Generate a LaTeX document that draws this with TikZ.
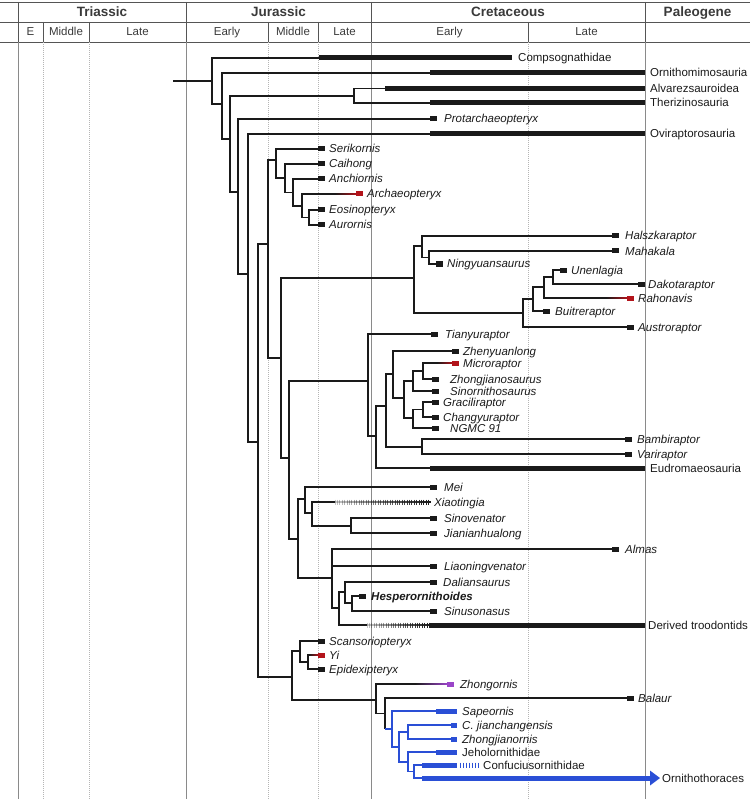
\documentclass[tikz,border=0pt]{standalone}
\usepackage{fontspec}
\setmainfont{Liberation Sans}
\usetikzlibrary{calc}
\definecolor{tree}{HTML}{1A1A1A}
\definecolor{txt}{HTML}{1A1A1A}
\definecolor{hdrline}{HTML}{555555}
\definecolor{hdrtxt}{HTML}{3A3A3A}
\definecolor{per}{HTML}{8A8A8A}
\definecolor{epo}{HTML}{B5B5B5}
\definecolor{myred}{HTML}{B3141B}
\definecolor{mypurp}{HTML}{9A44C8}
\definecolor{myblue}{HTML}{2A4FD6}
\begin{document}
\begin{tikzpicture}[x=1pt,y=-1pt,
  br/.style={line width=1.3pt,draw=tree},
  bbr/.style={line width=1.3pt,draw=myblue},
  bar/.style={line width=5pt,draw=tree,line cap=butt},
  bbar/.style={line width=5pt,draw=myblue,line cap=butt},
  tbox/.style={fill=tree,draw=none,minimum width=7pt,minimum height=5pt,inner sep=0pt,anchor=west},
  rbox/.style={tbox,fill=myred},
  pbox/.style={tbox,fill=mypurp},
  bbox/.style={tbox,fill=myblue,minimum width=6pt},
  lab/.style={anchor=base west,inner sep=0pt,text=txt,font=\fontsize{11.5}{13}\selectfont\itshape},
  clab/.style={anchor=base west,inner sep=0pt,text=txt,font=\fontsize{11.5}{13}\selectfont},
  hlab/.style={anchor=base,inner sep=0pt,text=hdrtxt,font=\fontsize{13.5}{15}\selectfont\bfseries},
  elab/.style={anchor=base,inner sep=0pt,text=hdrtxt,font=\fontsize{11.5}{13}\selectfont},
  hline/.style={draw=hdrline,line width=0.9pt},
  pline/.style={draw=per,line width=0.9pt},
  eline/.style={draw=epo,line width=0.7pt,dash pattern=on 1pt off 1pt}
]
\useasboundingbox (0,0) rectangle (750,799);
% ---------------- header ----------------
\draw[hline] (0,2) -- (750,2);
\draw[hline] (0,22) -- (750,22);
\draw[hline] (0,42) -- (750,42);
\draw[hline] (18,2) -- (18,42);
\foreach \px in {186,371,645} \draw[hline] (\px,2) -- (\px,42);
\foreach \px in {43,89,268,318,528} \draw[hline] (\px,22) -- (\px,42);
\foreach \px in {18,186,371,645} \draw[pline] (\px,42) -- (\px,799);
\foreach \px in {43,89,268,318,528} \draw[eline] (\px,42) -- (\px,799);
\node[hlab] (hTri) at (102,17) {Triassic};
\node[hlab] (hJur) at (278.5,17) {Jurassic};
\node[hlab] (hCre) at (508,17) {Cretaceous};
\node[hlab] (hPal) at (697.5,17) {Paleogene};
\node[elab] (eE) at (30.5,36) {E};
\node[elab] (eTM) at (66,36) {Middle};
\node[elab] (eTL) at (137.5,36) {Late};
\node[elab] (eJE) at (227,36) {Early};
\node[elab] (eJM) at (293,36) {Middle};
\node[elab] (eJL) at (344.5,36) {Late};
\node[elab] (eCE) at (449.5,36) {Early};
\node[elab] (eCL) at (586.5,36) {Late};
% ---------------- internal nodes ----------------
\coordinate (r0) at (173,81);
\coordinate (n0) at (212,81);
\coordinate (n1) at (222,104);
\coordinate (n2) at (230,139);
\coordinate (nat) at (354,96);
\coordinate (n3) at (238,192);
\coordinate (n4) at (248,274);
\coordinate (n5) at (258,442);
\coordinate (n6) at (268,244);
\coordinate (na1) at (276,160);
\coordinate (na2) at (285,178);
\coordinate (na3) at (293,192.5);
\coordinate (na4) at (302,206);
\coordinate (na5) at (309,217.5);
\coordinate (n7) at (281,358);
\coordinate (nun) at (414,278);
\coordinate (nh1) at (422,246);
\coordinate (nh2) at (429,257.5);
\coordinate (nu1) at (523,313);
\coordinate (nu2) at (533,299);
\coordinate (nu3) at (544,287);
\coordinate (nu4) at (553,277);
\coordinate (n8) at (289,458);
\coordinate (nd0) at (368,381);
\coordinate (nd1) at (376,436);
\coordinate (nd2) at (386,406);
\coordinate (nd3) at (393,374);
\coordinate (nd4) at (404,398);
\coordinate (nd5) at (413,381);
\coordinate (nd6) at (423,371);
\coordinate (nd7) at (413,418);
\coordinate (nd7b) at (423,409.5);
\coordinate (nd8) at (422,447);
\coordinate (ntr) at (298,539);
\coordinate (nt1) at (305,499);
\coordinate (nt2) at (312,513);
\coordinate (nt3) at (351,526);
\coordinate (nt5) at (332,578);
\coordinate (nt6) at (339,608);
\coordinate (nt7) at (345,592);
\coordinate (nt8) at (352,603);
\coordinate (nsa) at (292,677);
\coordinate (nsc) at (300,651);
\coordinate (nsc2) at (308,662);
\coordinate (nav) at (376,700);
\coordinate (nav2) at (385,713.5);
\coordinate (nav3) at (392,729);
\coordinate (nav4) at (399,747);
\coordinate (nav5) at (408,732);
\coordinate (nav6) at (408,762);
\coordinate (nav7) at (414,771.5);
% ---------------- leaves: bars ----------------
\coordinate (compsoS) at (319,58);  \coordinate (compsoE) at (512,58);
\coordinate (ornS) at (430,73);     \coordinate (ornE) at (645,73);
\coordinate (alvS) at (385,88.5);   \coordinate (alvE) at (645,88.5);
\coordinate (therS) at (430,103);   \coordinate (therE) at (645,103);
\coordinate (oviS) at (430,134);    \coordinate (oviE) at (645,134);
\coordinate (eudS) at (430,468);    \coordinate (eudE) at (645,468);
\coordinate (dtS) at (367,625);     \coordinate (dtB) at (430,625); \coordinate (dtE) at (645,625);
\coordinate (xiaoS) at (335,502);
\draw[bar] (compsoS) -- (compsoE);
\draw[bar] (ornS) -- (ornE);
\draw[bar] (alvS) -- (alvE);
\draw[bar] (therS) -- (therE);
\draw[bar] (oviS) -- (oviE);
\draw[bar] (eudS) -- (eudE);
\draw[bar] (dtB) -- (dtE);
% ---------------- leaves: boxes ----------------
\node[tbox] (prot) at (430,119) {};
\node[tbox] (seri) at (318,149) {};
\node[tbox] (caih) at (318,164) {};
\node[tbox] (anch) at (318,179) {};
\node[rbox] (arch) at (356,194) {};
\node[tbox] (eosi) at (318,210) {};
\node[tbox] (auro) at (318,225) {};
\node[tbox] (hals) at (612,236) {};
\node[tbox] (maha) at (612,251) {};
\node[tbox] (ning) at (436,264) {};
\node[tbox] (unen) at (560,270) {};
\node[tbox] (dako) at (638,284) {};
\node[rbox] (raho) at (627,298) {};
\node[tbox] (buit) at (543,311) {};
\node[tbox] (aust) at (627,327) {};
\node[tbox] (tian) at (431,334) {};
\node[tbox] (zhen) at (452,351) {};
\node[rbox] (micr) at (452,363) {};
\node[tbox] (zhoj) at (432,379) {};
\node[tbox] (sino) at (432,391) {};
\node[tbox] (grac) at (432,402) {};
\node[tbox] (chan) at (432,417) {};
\node[tbox] (ngmc) at (432,428) {};
\node[tbox] (bamb) at (625,439) {};
\node[tbox] (vari) at (625,454) {};
\node[tbox] (mei) at (430,487) {};
\node[tbox] (sinv) at (430,518) {};
\node[tbox] (jian) at (430,533) {};
\node[tbox] (alma) at (612,549) {};
\node[tbox] (liao) at (430,566) {};
\node[tbox] (dali) at (430,582) {};
\node[tbox] (hesp) at (359,596) {};
\node[tbox] (sinu) at (430,611) {};
\node[tbox] (scan) at (318,641) {};
\node[rbox] (yi) at (318,655) {};
\node[tbox] (epid) at (318,669) {};
\node[pbox] (zhon) at (447,684) {};
\node[tbox] (bala) at (627,698) {};
\node[bbox] (cjia) at (451,725) {};
\node[bbox] (zhjo) at (451,739) {};
% gradient stems
\coordinate (archS) at (335,194);
\coordinate (rahoS) at (606,298);
\coordinate (micrS) at (437,363);
\coordinate (yiS) at (309,655);
\coordinate (zhonS) at (415,684);
\shade[left color=tree,right color=myred] (335,193.35) rectangle (356.5,194.65);
\shade[left color=tree,right color=myred] (606,297.35) rectangle (627.5,298.65);
\shade[left color=tree,right color=myred] (437,362.35) rectangle (452.5,363.65);
\shade[left color=tree,right color=myred] (309,654.35) rectangle (318.5,655.65);
\shade[left color=tree,right color=mypurp] (415,683.35) rectangle (447.5,684.65);
% hatching
\foreach \i in {0,...,39}{
  \pgfmathsetmacro{\hx}{335+2.4*\i}
  \pgfmathsetmacro{\ho}{0.25+0.75*\i/39}
  \draw[tree,line width=0.8pt,opacity=\ho] (\hx,499.5) -- (\hx,504.5);
  \draw[tree,line width=1.3pt,opacity=\ho] (\hx,502) -- ++(2.4,0);
}
\foreach \i in {0,...,26}{
  \pgfmathsetmacro{\hx}{367+2.4*\i}
  \pgfmathsetmacro{\ho}{0.25+0.75*\i/26}
  \draw[tree,line width=0.8pt,opacity=\ho] (\hx,622.5) -- (\hx,627.5);
  \draw[tree,line width=1.3pt,opacity=\ho] (\hx,625) -- ++(2.4,0);
}
% ---------------- edges ----------------
\draw[br] (r0) -- (n0);
\draw[br] (n0) |- (compsoS);  \draw[br] (n0) |- (n1);
\draw[br] (n1) |- (ornS);     \draw[br] (n1) |- (n2);
\draw[br] (n2) |- (nat);      \draw[br] (n2) |- (n3);
\draw[br] (nat) |- (alvS);    \draw[br] (nat) |- (therS);
\draw[br] (n3) |- (prot.west); \draw[br] (n3) |- (n4);
\draw[br] (n4) |- (oviS);     \draw[br] (n4) |- (n5);
\draw[br] (n5) |- (n6);       \draw[br] (n5) |- (nsa);
\draw[br] (n6) |- (na1);      \draw[br] (n6) |- (n7);
\draw[br] (na1) |- (seri.west); \draw[br] (na1) |- (na2);
\draw[br] (na2) |- (caih.west); \draw[br] (na2) |- (na3);
\draw[br] (na3) |- (anch.west); \draw[br] (na3) |- (na4);
\draw[br] (na4) |- (archS);     \draw[br] (na4) |- (na5);
\draw[br] (na5) |- (eosi.west); \draw[br] (na5) |- (auro.west);
\draw[br] (n7) |- (nun);        \draw[br] (n7) |- (n8);
\draw[br] (nun) |- (nh1);       \draw[br] (nun) |- (nu1);
\draw[br] (nh1) |- (hals.west); \draw[br] (nh1) |- (nh2);
\draw[br] (nh2) |- (maha.west); \draw[br] (nh2) |- (ning.west);
\draw[br] (nu1) |- (nu2);       \draw[br] (nu1) |- (aust.west);
\draw[br] (nu2) |- (nu3);       \draw[br] (nu2) |- (buit.west);
\draw[br] (nu3) |- (nu4);       \draw[br] (nu3) |- (rahoS);
\draw[br] (nu4) |- (unen.west); \draw[br] (nu4) |- (dako.west);
\draw[br] (n8) |- (nd0);        \draw[br] (n8) |- (ntr);
\draw[br] (nd0) |- (tian.west); \draw[br] (nd0) |- (nd1);
\draw[br] (nd1) |- (nd2);       \draw[br] (nd1) |- (eudS);
\draw[br] (nd2) |- (nd3);       \draw[br] (nd2) |- (nd8);
\draw[br] (nd3) |- (zhen.west); \draw[br] (nd3) |- (nd4);
\draw[br] (nd4) |- (nd5);       \draw[br] (nd4) |- (nd7);
\draw[br] (nd5) |- (nd6);       \draw[br] (nd5) |- (sino.west);
\draw[br] (nd6) |- (micrS);     \draw[br] (nd6) |- (zhoj.west);
\draw[br] (nd7) |- (nd7b);      \draw[br] (nd7) |- (ngmc.west);
\draw[br] (nd7b) |- (grac.west); \draw[br] (nd7b) |- (chan.west);
\draw[br] (nd8) |- (bamb.west); \draw[br] (nd8) |- (vari.west);
\draw[br] (ntr) |- (nt1);       \draw[br] (ntr) |- (nt5);
\draw[br] (nt1) |- (mei.west);  \draw[br] (nt1) |- (nt2);
\draw[br] (nt2) |- (xiaoS);     \draw[br] (nt2) |- (nt3);
\draw[br] (nt3) |- (sinv.west); \draw[br] (nt3) |- (jian.west);
\draw[br] (nt5) |- (alma.west); \draw[br] (nt5) |- (liao.west); \draw[br] (nt5) |- (nt6);
\draw[br] (nt6) |- (nt7);       \draw[br] (nt6) |- (dtS);
\draw[br] (nt7) |- (dali.west); \draw[br] (nt7) |- (nt8);
\draw[br] (nt8) |- (hesp.west); \draw[br] (nt8) |- (sinu.west);
\draw[br] (nsa) |- (nsc);       \draw[br] (nsa) |- (nav);
\draw[br] (nsc) |- (scan.west); \draw[br] (nsc) |- (nsc2);
\draw[br] (nsc2) |- (yiS);      \draw[br] (nsc2) |- (epid.west);
\draw[br] (nav) |- (zhonS);     \draw[br] (nav) |- (nav2);
\draw[br] (nav2) |- (bala.west); \draw[br] (nav2) -- (nav2 |- nav3);
% ---------------- Avialae (blue) ----------------
\coordinate (sapS) at (436,711);  \coordinate (sapE) at (457,711);
\coordinate (jehS) at (436,752);  \coordinate (jehE) at (457,752);
\coordinate (confS) at (422,765); \coordinate (confE) at (457,765);
\coordinate (ornthS) at (422,778); \coordinate (ornthE) at (651,778);
\draw[bbr] (nav2 |- nav3) -- (nav3);
\draw[bbr] (nav3) |- (sapS);     \draw[bbr] (nav3) |- (nav4);
\draw[bbr] (nav4) |- (nav5);     \draw[bbr] (nav4) |- (nav6);
\draw[bbr] (nav5) |- (cjia.west); \draw[bbr] (nav5) |- (zhjo.west);
\draw[bbr] (nav6) |- (jehS);     \draw[bbr] (nav6) |- (nav7);
\draw[bbr] (nav7) |- (confS);    \draw[bbr] (nav7) |- (ornthS);
\draw[bbar] (sapS) -- (sapE);
\draw[bbar] (jehS) -- (jehE);
\draw[bbar] (confS) -- (confE);
\draw[bbar] (ornthS) -- (ornthE);
\fill[myblue] (650,770.5) -- (660,778) -- (650,785.5) -- cycle;
\foreach \i in {0,...,6} \draw[myblue,line width=1pt] (460+3*\i,762.5) -- (460+3*\i,767.5);
% ---------------- labels ----------------
\node[clab] (lComp) at (518,62) {Compsognathidae};
\node[clab] (lOrn) at (650,77) {Ornithomimosauria};
\node[clab] (lAlv) at (650,92.5) {Alvarezsauroidea};
\node[clab] (lTher) at (650,107) {Therizinosauria};
\node[lab] (lProt) at (444,123) {Protarchaeopteryx};
\node[clab] (lOvi) at (650,138) {Oviraptorosauria};
\node[lab] (lSeri) at (329,153) {Serikornis};
\node[lab] (lCaih) at (329,168) {Caihong};
\node[lab] (lAnch) at (329,183) {Anchiornis};
\node[lab] (lArch) at (367,198) {Archaeopteryx};
\node[lab] (lEosi) at (329,214) {Eosinopteryx};
\node[lab] (lAuro) at (329,229) {Aurornis};
\node[lab] (lHals) at (625,240) {Halszkaraptor};
\node[lab] (lMaha) at (625,255) {Mahakala};
\node[lab] (lNing) at (447,268) {Ningyuansaurus};
\node[lab] (lUnen) at (571,274) {Unenlagia};
\node[lab] (lDako) at (648,288) {Dakotaraptor};
\node[lab] (lRaho) at (638,302) {Rahonavis};
\node[lab] (lBuit) at (555,315) {Buitreraptor};
\node[lab] (lAust) at (638,331) {Austroraptor};
\node[lab] (lTian) at (445,338) {Tianyuraptor};
\node[lab] (lZhen) at (463,355) {Zhenyuanlong};
\node[lab] (lMicr) at (463,367) {Microraptor};
\node[lab] (lZhoj) at (450,383) {Zhongjianosaurus};
\node[lab] (lSino) at (450,395) {Sinornithosaurus};
\node[lab] (lGrac) at (443,406) {Graciliraptor};
\node[lab] (lChan) at (443,421) {Changyuraptor};
\node[lab] (lNgmc) at (450,432) {NGMC 91};
\node[lab] (lBamb) at (637,443) {Bambiraptor};
\node[lab] (lVari) at (637,458) {Variraptor};
\node[clab] (lEud) at (650,472) {Eudromaeosauria};
\node[lab] (lMei) at (444,491) {Mei};
\node[lab] (lXiao) at (434,506) {Xiaotingia};
\node[lab] (lSinv) at (444,522) {Sinovenator};
\node[lab] (lJian) at (444,537) {Jianianhualong};
\node[lab] (lAlma) at (625,553) {Almas};
\node[lab] (lLiao) at (444,570) {Liaoningvenator};
\node[lab] (lDali) at (443,586) {Daliansaurus};
\node[lab,font=\fontsize{11.5}{13}\selectfont\bfseries\itshape] (lHesp) at (371,600) {Hesperornithoides};
\node[lab] (lSinu) at (444,615) {Sinusonasus};
\node[clab] (lDt) at (648,629) {Derived troodontids};
\node[lab] (lScan) at (329,645) {Scansoriopteryx};
\node[lab] (lYi) at (329,659) {Yi};
\node[lab] (lEpid) at (329,673) {Epidexipteryx};
\node[lab] (lZhon) at (460,688) {Zhongornis};
\node[lab] (lBala) at (638,702) {Balaur};
\node[lab] (lSap) at (462,715) {Sapeornis};
\node[lab] (lCjia) at (462,729) {C. jianchangensis};
\node[lab] (lZhjo) at (462,743) {Zhongjianornis};
\node[clab] (lJeh) at (462,756) {Jeholornithidae};
\node[clab] (lConf) at (483,769) {Confuciusornithidae};
\node[clab] (lOrnth) at (662,782) {Ornithothoraces};
\end{tikzpicture}
\end{document}
